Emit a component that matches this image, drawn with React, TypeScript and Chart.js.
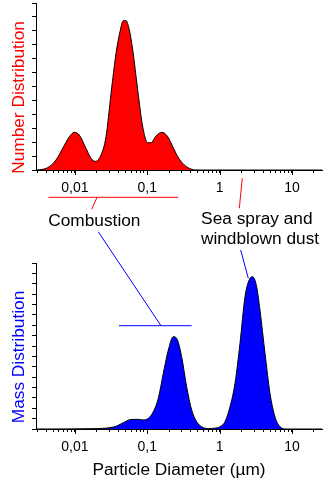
import React, { useEffect, useRef } from "react";
import { Chart, registerables } from "chart.js";

Chart.register(...registerables);

// ---- data ----
const numberDiameters = [
  0.0029, 0.0036, 0.00443, 0.00548, 0.00679, 0.00838, 0.00982, 0.0115, 0.01423, 0.0167, 0.01914,
  0.02296, 0.0269, 0.0316, 0.037, 0.042, 0.0467, 0.0508, 0.0565, 0.063, 0.0738, 0.0865, 0.1014,
  0.1127, 0.132, 0.16, 0.192, 0.225, 0.264, 0.325, 0.402, 0.47, 26,
];
const numberValues = [
  0, 0.05, 0.24, 0.72, 1.56, 2.39, 2.71, 2.51, 1.56, 0.84, 0.62,
  1.08, 2.39, 5.51, 8.38, 9.94, 10.73, 10.73, 10.06, 8.62, 5.75, 3.11, 1.96,
  1.96, 2.44, 2.71, 2.39, 1.68, 0.96, 0.36, 0.07, 0, 0,
];

const massDiameters = [
  0.0029, 0.0162, 0.0306, 0.0378, 0.0467, 0.0578, 0.0752, 0.0881, 0.1035, 0.1213, 0.142, 0.1667,
  0.1954, 0.229, 0.2547, 0.2987, 0.35, 0.411, 0.482, 0.565, 0.698, 0.85, 1.012, 1.187, 1.392,
  1.632, 1.913, 2.243, 2.63, 2.86, 3.25, 3.61, 4.24, 4.97, 5.82, 6.83, 8.45, 26,
];
const massValues = [
  0, 0.03, 0.13, 0.29, 0.61, 0.9, 0.93, 0.87, 1.03, 1.67, 2.95, 5.37,
  7.61, 8.9, 8.74, 6.97, 4.08, 1.83, 0.7, 0.22, 0.04, 0.08, 0.22, 0.71, 2.15,
  4.4, 8.26, 12.75, 14.52, 14.68, 13.72, 11.47, 7.3, 3.44, 1.19, 0.22, 0, 0,
];

const xMin = 0.0029;
const xMax = 26;
const xTickValues = [
  0.003, 0.004, 0.005, 0.006, 0.007, 0.008, 0.009,
  0.01, 0.02, 0.03, 0.04, 0.05, 0.06, 0.07, 0.08, 0.09,
  0.1, 0.2, 0.3, 0.4, 0.5, 0.6, 0.7, 0.8, 0.9,
  1, 2, 3, 4, 5, 6, 7, 8, 9,
  10, 20,
];
const majorTickValues = [0.01, 0.1, 1, 10];
const majorTickLabels = ["0,01", "0,1", "1", "10"];

const numberTitle = "Number Distribution";
const massTitle = "Mass Distribution";
const xTitle = "Particle Diameter (µm)";
const numberMax = 12;
const massMax = 16;

// annotations: x in data units (µm), y in page pixels
const annotationLines = [
  { color: "#ff0000", x1: 0.0043, y1: 197.3, x2: 0.268, y2: 197.3 },
  { color: "#ff0000", x1: 0.0202, y1: 197.3, x2: 0.0171, y2: 209.3 },
  { color: "#ff0000", x1: 2.058, y1: 178.3, x2: 1.871, y2: 208.3 },
  { color: "#0000ff", x1: 0.021, y1: 231.7, x2: 0.1548, y2: 325.7 },
  { color: "#0000ff", x1: 0.0407, y1: 325.7, x2: 0.411, y2: 325.7 },
  { color: "#0000ff", x1: 1.955, y1: 250, x2: 2.49, y2: 278.3 },
];
const annotationTexts = [
  { text: "Combustion", x: 0.00428, y: 226 },
  { text: "Sea spray and", x: 0.555, y: 224.3 },
  { text: "windblown dust", x: 0.552, y: 244.3 },
];

const FONT = "'Liberation Sans', Arial, Helvetica, sans-serif";
const W = 323;
const H = 484;

function toPoints(xs: number[], ys: number[]) {
  return xs.map((x, i) => ({ x, y: ys[i] }));
}

function isMajor(v: number) {
  return majorTickValues.some((m) => Math.abs(v - m) / m < 1e-6);
}

function labelFor(v: number) {
  const i = majorTickValues.findIndex((m) => Math.abs(v - m) / m < 1e-6);
  return i >= 0 ? majorTickLabels[i] : "";
}

const yTitlePlugin = {
  id: "yTitlePlugin",
  afterDraw(chart: any, _args: any, opts: any) {
    const { ctx, chartArea } = chart;
    ctx.save();
    ctx.font = `17.3px ${FONT}`;
    ctx.fillStyle = opts.color;
    ctx.textAlign = "center";
    ctx.textBaseline = "middle";
    ctx.translate(18.8, (chartArea.top + chartArea.bottom) / 2 + 11);
    ctx.rotate(-Math.PI / 2);
    ctx.fillText(opts.text, 0, 0);
    ctx.restore();
  },
};

const majorTickPlugin = {
  id: "majorTickPlugin",
  afterDraw(chart: any) {
    const { ctx, chartArea, scales } = chart;
    ctx.save();
    ctx.strokeStyle = "#000";
    ctx.lineWidth = 1;
    majorTickValues.forEach((v) => {
      const px = Math.round(scales.x.getPixelForValue(v)) + 0.5;
      ctx.beginPath();
      ctx.moveTo(px, chartArea.bottom);
      ctx.lineTo(px, chartArea.bottom + 5);
      ctx.stroke();
    });
    ctx.restore();
  },
};

const annotationPlugin = {
  id: "annotationPlugin",
  afterDraw(chart: any) {
    const { ctx, scales } = chart;
    const sx = scales.x;
    ctx.save();
    ctx.lineWidth = 1;
    annotationLines.forEach((l) => {
      ctx.strokeStyle = l.color;
      ctx.beginPath();
      ctx.moveTo(sx.getPixelForValue(l.x1), l.y1);
      ctx.lineTo(sx.getPixelForValue(l.x2), l.y2);
      ctx.stroke();
    });
    ctx.font = `17.3px ${FONT}`;
    ctx.fillStyle = "#000";
    ctx.textAlign = "left";
    ctx.textBaseline = "alphabetic";
    annotationTexts.forEach((t) => {
      ctx.fillText(t.text, sx.getPixelForValue(t.x), t.y);
    });
    ctx.restore();
  },
};

function makeOptions(
  yMax: number,
  padding: any,
  xHeight: number,
  withTitle: boolean
): any {
  return {
    responsive: false,
    animation: false,
    devicePixelRatio: 1,
    layout: { padding },
    plugins: {
      legend: { display: false },
      tooltip: { enabled: false },
    },
    elements: { point: { radius: 0 } },
    scales: {
      x: {
        type: "logarithmic",
        min: xMin,
        max: xMax,
        afterBuildTicks: (s: any) => {
          s.ticks = xTickValues.map((v) => ({ value: v, major: isMajor(v) }));
        },
        afterFit: (s: any) => {
          s.height = xHeight;
        },
        ticks: {
          autoSkip: false,
          maxRotation: 0,
          minRotation: 0,
          padding: 7,
          color: "#000",
          font: { family: FONT, size: 14 },
          callback: (v: any) => labelFor(Number(v)),
        },
        grid: {
          drawOnChartArea: false,
          drawTicks: true,
          tickLength: 3,
          tickColor: "#000",
          color: "#000",
        },
        border: { display: true, color: "#000", width: 1 },
        title: {
          display: withTitle,
          text: xTitle,
          color: "#000",
          font: { family: FONT, size: 17.3 },
          padding: { top: 0, bottom: 3 },
        },
      },
      y: {
        type: "linear",
        min: 0,
        max: yMax,
        afterFit: (s: any) => {
          s.width = 36;
        },
        ticks: { display: false, stepSize: 1 },
        grid: {
          drawOnChartArea: false,
          drawTicks: true,
          tickLength: 4,
          tickColor: "#000",
          color: "#000",
        },
        border: { display: true, color: "#000", width: 1 },
      },
    },
  };
}

export default function App() {
  const topRef = useRef<HTMLCanvasElement | null>(null);
  const bottomRef = useRef<HTMLCanvasElement | null>(null);

  useEffect(() => {
    if (!topRef.current || !bottomRef.current) return;
    const top = new Chart(topRef.current, {
      type: "line",
      data: {
        datasets: [
          {
            data: toPoints(numberDiameters, numberValues),
            borderColor: "#000",
            borderWidth: 1,
            backgroundColor: "#ff0000",
            fill: "origin",
            cubicInterpolationMode: "monotone",
            pointRadius: 0,
          },
        ],
      },
      options: {
        ...makeOptions(numberMax, { top: 3, left: 0, right: 1, bottom: H - 170 - 30 }, 30, false),
        plugins: {
          legend: { display: false },
          tooltip: { enabled: false },
          yTitlePlugin: { text: numberTitle, color: "#ff0000" },
        },
      },
      plugins: [yTitlePlugin, majorTickPlugin],
    } as any);

    const bottom = new Chart(bottomRef.current, {
      type: "line",
      data: {
        datasets: [
          {
            data: toPoints(massDiameters, massValues),
            borderColor: "#000",
            borderWidth: 1,
            backgroundColor: "#0000ff",
            fill: "origin",
            cubicInterpolationMode: "monotone",
            pointRadius: 0,
          },
        ],
      },
      options: {
        ...makeOptions(massMax, { top: 263, left: 0, right: 1, bottom: 0 }, H - 429, true),
        plugins: {
          legend: { display: false },
          tooltip: { enabled: false },
          yTitlePlugin: { text: massTitle, color: "#0000ff" },
        },
      },
      plugins: [yTitlePlugin, majorTickPlugin, annotationPlugin],
    } as any);

    return () => {
      top.destroy();
      bottom.destroy();
    };
  }, []);

  const canvasStyle: React.CSSProperties = {
    position: "absolute",
    left: 0,
    top: 0,
    width: W,
    height: H,
  };

  return (
    <div
      style={{
        position: "absolute",
        left: 0,
        top: 0,
        width: W,
        height: H,
        background: "#fff",
        overflow: "hidden",
      }}
    >
      <canvas ref={topRef} width={W} height={H} style={canvasStyle} />
      <canvas ref={bottomRef} width={W} height={H} style={canvasStyle} />
    </div>
  );
}
